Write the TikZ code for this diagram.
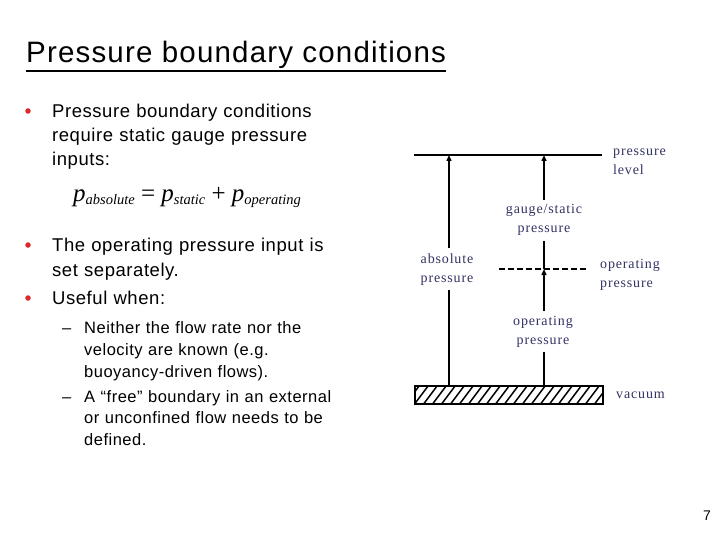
\documentclass[tikz,border=0pt]{standalone}
\usepackage{fontspec}
\setmainfont[LetterSpace=3]{Liberation Sans}
\newfontfamily\lblfont[LetterSpace=6]{Liberation Serif}
\newfontfamily\eqfont{Liberation Serif}
\usetikzlibrary{arrows.meta,calc,positioning}
\definecolor{lblblue}{RGB}{50,50,100}
\definecolor{dotred}{RGB}{220,40,40}

\begin{document}
\begin{tikzpicture}[x=1pt,y=-1pt,
  body/.style={anchor=base west,inner sep=0pt,align=left,text width=320pt,font=\fontsize{18.5}{24}\selectfont},
  subbody/.style={anchor=base west,inner sep=0pt,align=left,text width=320pt,font=\fontsize{16.5}{22}\selectfont},
  dot/.style={circle,fill=dotred,inner sep=0pt,minimum size=5.5pt},
  lbl/.style={inner xsep=0pt,inner ysep=5pt,align=center,text width=80pt,anchor=base,fill=white,text=lblblue,font=\lblfont\fontsize{14}{19}\selectfont},
  sidelbl/.style={inner sep=0pt,align=left,text width=70pt,anchor=base west,text=lblblue,font=\lblfont\fontsize{14}{19}\selectfont},
  arr/.style={line width=1.4pt,-{Triangle[length=6pt,width=5pt]}}]
  \useasboundingbox (0,0) rectangle (720,540);

  % title
  \node[anchor=base west,inner sep=0pt,font=\fontsize{29.5}{34}\selectfont\addfontfeatures{LetterSpace=4}] (title) at (26,63) {Pressure boundary conditions};
  \draw[line width=2.2pt] ($(title.base west)+(0,8)$) -- ($(title.base east)+(0,8)$);

  % bullet text
  \node[dot] (d1) at (28,111) {};
  \node[body] (intro) at (52,118) {Pressure boundary conditions\\require static gauge pressure\\inputs:};
  \node[anchor=base west,inner sep=0pt] (eqn) at (73,202) {\eqfont\itshape\fontsize{25}{25}\selectfont
    p\raisebox{-2.5pt}{\fontsize{14.5}{14.5}\selectfont absolute} {\upshape=} p\raisebox{-2.5pt}{\fontsize{14.5}{14.5}\selectfont static} {\upshape+} p\raisebox{-2.5pt}{\fontsize{14.5}{14.5}\selectfont operating}};
  \node[dot] (d2) at (28,245) {};
  \node[body,font=\fontsize{18.5}{24.5}\selectfont] (opnote) at (52,251.5) {The operating pressure input is\\set separately.};
  \node[dot] (d3) at (28,298) {};
  \node[body] (useful) at (52,304.5) {Useful when:};
  \node[subbody,text width=20pt] (s1) at (62,333) {--};
  \node[subbody] (caseA) at (84,333) {Neither the flow rate nor the\\velocity are known (e.g.\\buoyancy-driven flows).};
  \node[subbody,text width=20pt] (s2) at (62,402) {--};
  \node[subbody,font=\fontsize{16.5}{21.5}\selectfont] (caseB) at (84,402) {A “free” boundary in an external\\or unconfined flow needs to be\\defined.};

  % pressure levels
  \coordinate (lvlL) at (414,155);
  \coordinate (lvlR) at (602,155);
  \coordinate (opL) at (499,269);
  \coordinate (opR) at (587,269);
  \coordinate (absTop) at (449,155);
  \coordinate (absBot) at (449,385);
  \coordinate (gTop) at (544,155);
  \coordinate (gMid) at (544,269);
  \coordinate (gBot) at (544,385);
  \draw[line width=1.5pt] (lvlL) -- (lvlR);
  \draw[line width=1.5pt,dash pattern=on 6pt off 3pt] (opL) -- (opR);

  % vacuum
  \node[draw,line width=1.8pt,minimum width=188pt,minimum height=18pt,inner sep=0pt,anchor=north west] (vac) at (414,385) {};
  \begin{scope}
    \clip (vac.south west) rectangle (vac.north east);
    \foreach \i in {0,...,24}
      \draw[line width=1.5pt] ($(vac.south west)+(\i*9-18,0)$) -- ++(15,-20);
  \end{scope}

  \draw[arr] (absBot) -- (absTop);
  \draw[arr] (gBot) -- (gMid);
  \draw[arr] (gMid) -- (gTop);

  \node[lbl] (absLbl) at (447,263) {absolute\\pressure};
  \node[lbl] (gaugeLbl) at (544,214) {gauge/static\\pressure};
  \node[lbl] (opLbl) at (543,325) {operating\\pressure};
  \node[sidelbl] (lvlLbl) at (613,156) {pressure\\level};
  \node[sidelbl] (opLvlLbl) at (600,268) {operating\\pressure};
  \node[sidelbl] (vacLbl) at (616,398) {vacuum};

  \node[anchor=base east,inner sep=0pt,font=\fontsize{14}{14}\selectfont] (pagenum) at (711,520) {7};
\end{tikzpicture}
\end{document}
